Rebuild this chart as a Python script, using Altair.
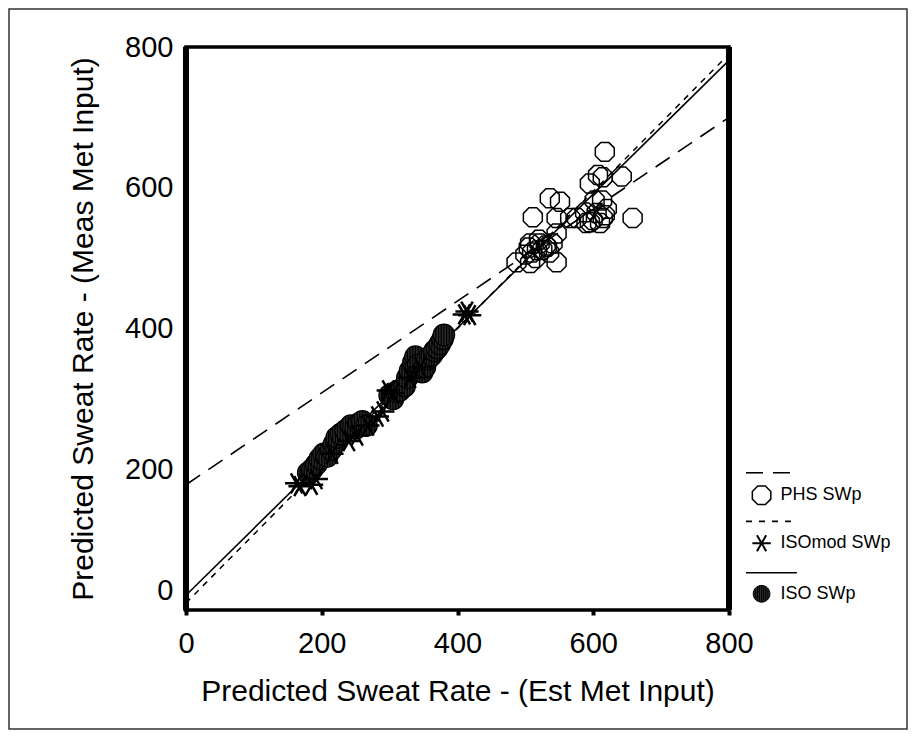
import altair as alt
import pandas as pd

# ---------------- data ----------------
x_ticks = [0, 200, 400, 600, 800]
y_ticks = [0, 200, 400, 600, 800]

phs_x = [617, 607, 642, 614, 595, 602, 613, 536, 551, 511, 658, 546, 576, 599, 614, 590,
         546, 507, 521, 540, 517, 546, 487, 507, 532, 500, 510, 525, 515, 530, 520, 535,
         505, 588, 605, 617, 595, 610, 620, 566]
phs_y = [651, 618, 616, 615, 606, 582, 582, 585, 580, 558, 557, 557, 557, 554, 557, 550,
         535, 521, 521, 521, 511, 494, 494, 493, 516, 505, 508, 512, 500, 518, 526, 508,
         515, 565, 564, 561, 551, 550, 570, 557]

isomod_x = [163, 168, 185, 192, 215, 240, 252, 268, 282, 290, 298, 305, 330, 345, 410, 414, 418]
isomod_y = [180, 176, 178, 186, 222, 240, 248, 262, 275, 282, 312, 308, 330, 345, 420, 424, 419]

iso_x = [180, 186, 192, 197, 203, 208, 214, 218, 222, 228, 235, 243, 250, 255, 260, 266,
         300, 305, 310, 315, 322, 326, 330, 335, 338, 342, 348, 352, 356, 362, 366, 370,
         374, 378, 380]
iso_y = [195, 200, 207, 215, 222, 218, 228, 236, 245, 250, 255, 262, 258, 265, 268, 262,
         305, 300, 310, 312, 318, 330, 340, 352, 360, 348, 338, 345, 356, 362, 368, 372,
         378, 385, 391]

# regression lines (end points)
phs_line_x = [0, 800]
phs_line_y = [178, 700]
isomod_line_x = [0, 800]
isomod_line_y = [10, 790]
iso_line_x = [0, 800]
iso_line_y = [21, 781]

series_names = ["PHS SWp", "ISOmod SWp", "ISO SWp"]
# legend placement (in data units, outside the plotted domain)
leg_line_x1 = [825, 825, 825]
leg_line_x2 = [900, 900, 900]
leg_line_y = [195, 126, 53]
leg_sym_x = [848, 848, 848]
leg_sym_y = [163, 95, 23]
leg_text_x = [876, 876, 876]

border_x = [0, 800]

# ---------------- styling ----------------
FONT = "Liberation Sans"
W, H = 543, 563

OCTAGON = ("M0.383,-0.924L0.924,-0.383L0.924,0.383L0.383,0.924L-0.383,0.924"
           "L-0.924,0.383L-0.924,-0.383L-0.383,-0.924Z")
ASTER = "M-1,0L1,0M-0.5,-0.866L0.5,0.866M-0.5,0.866L0.5,-0.866"
HATCH = ("M-1,0A1,1 0 1,0 1,0A1,1 0 1,0 -1,0Z"
         "M-0.75,-0.661L-0.75,0.661M-0.5,-0.866L-0.5,0.866M-0.25,-0.968L-0.25,0.968"
         "M0,-1L0,1M0.25,-0.968L0.25,0.968M0.5,-0.866L0.5,0.866M0.75,-0.661L0.75,0.661")

xs = alt.Scale(domain=[0, 800], nice=False, zero=False)
ys = alt.Scale(domain=[0, 800], nice=False, zero=False)

ax_x = alt.Axis(values=x_ticks, title="Predicted Sweat Rate - (Est Met Input)", grid=False,
                domain=False, tickSize=5, tickWidth=4, tickColor="black",
                labelFont=FONT, labelFontSize=29, labelColor="black", labelPadding=14,
                labelFlush=False, labelOverlap=False,
                titleFont=FONT, titleFontSize=30, titleFontWeight="normal",
                titleColor="black", titlePadding=18)
ax_y = alt.Axis(values=y_ticks, title="Predicted Sweat Rate - (Meas Met Input)", grid=False,
                domain=False, tickSize=3, tickWidth=2, tickColor="black",
                labelFont=FONT, labelFontSize=29, labelColor="black", labelPadding=10,
                labelOverlap=False,
                labelOffset=alt.condition("datum.value === 0", alt.value(-20), alt.value(0)),
                titleFont=FONT, titleFontSize=30, titleFontWeight="normal",
                titleColor="black", titlePadding=26)


def X(field="x"):
    return alt.X(field, type="quantitative", scale=xs, axis=ax_x)


def Y(field="y"):
    return alt.Y(field, type="quantitative", scale=ys, axis=ax_y)


def df(xv, yv):
    return pd.DataFrame({"x": xv, "y": yv})


# thick left / right frame sides
borders = alt.Chart(pd.DataFrame({"x": border_x, "y": [0, 0], "y2": [800, 800]})).mark_rule(
    color="black", strokeWidth=6).encode(x=X(), y=Y(), y2="y2")

lines = [
    alt.Chart(df(phs_line_x, phs_line_y)).mark_line(color="black", strokeWidth=1.6,
                                                    strokeDash=[17, 10]).encode(x=X(), y=Y()),
    alt.Chart(df(isomod_line_x, isomod_line_y)).mark_line(color="black", strokeWidth=1.5,
                                                          strokeDash=[6, 6]).encode(x=X(), y=Y()),
    alt.Chart(df(iso_line_x, iso_line_y)).mark_line(color="black", strokeWidth=1.6).encode(x=X(), y=Y()),
]

phs_pts = alt.Chart(df(phs_x, phs_y)).mark_point(
    shape=OCTAGON, size=420, filled=False, fill="white", fillOpacity=0, stroke="black",
    strokeWidth=1.5, opacity=1).encode(x=X(), y=Y())
iso_pts = alt.Chart(df(iso_x, iso_y)).mark_point(
    shape=HATCH, size=460, filled=True, fill="#2a2a2a", stroke="black", strokeWidth=1.2,
    opacity=1).encode(x=X(), y=Y())
isomod_pts = alt.Chart(df(isomod_x, isomod_y)).mark_point(
    shape=ASTER, size=540, filled=False, stroke="black", strokeWidth=2.5,
    opacity=1).encode(x=X(), y=Y())

# legend built from its own small table
leg_lines_df = pd.DataFrame({"x": leg_line_x1, "x2": leg_line_x2, "y": leg_line_y,
                             "s": series_names})
leg_dash = [[17, 10], [6, 7], [1, 0]]
leg_lines = [
    alt.Chart(leg_lines_df.iloc[[i]]).mark_rule(color="black", strokeWidth=1.6,
                                                strokeDash=leg_dash[i]).encode(x=X(), x2="x2", y=Y())
    for i in range(3)
]
leg_shapes = [(OCTAGON, 400, False, 1.5), (ASTER, 340, False, 2.0), (HATCH, 280, True, 1.0)]
leg_syms = []
for i, (shp, sz, fl, sw) in enumerate(leg_shapes):
    kw = dict(shape=shp, size=sz, filled=fl, stroke="black", strokeWidth=sw, opacity=1)
    if fl:
        kw["fill"] = "#2a2a2a"
    else:
        kw["fill"] = "white"
        kw["fillOpacity"] = 0
    leg_syms.append(alt.Chart(df([leg_sym_x[i]], [leg_sym_y[i]])).mark_point(**kw)
                    .encode(x=X(), y=Y()))
leg_text = alt.Chart(pd.DataFrame({"x": leg_text_x, "y": leg_sym_y, "t": series_names})).mark_text(
    align="left", baseline="middle", font=FONT, fontSize=18, color="black").encode(
    x=X(), y=Y(), text="t")

# outer frame of the whole figure
frame = alt.Chart(pd.DataFrame({"a": [0]})).mark_rect(
    fill="transparent", stroke="#333333", strokeWidth=1.5).encode(
    x=alt.value(-177), x2=alt.value(721), y=alt.value(-38), y2=alt.value(682))

chart = alt.layer(
    frame, *lines, iso_pts, isomod_pts, phs_pts, borders, *leg_lines, *leg_syms, leg_text
).properties(
    width=W, height=H,
    padding={"left": 178, "top": 39, "right": 179, "bottom": 120},
    autosize=alt.AutoSizeParams(type="none"),
    background="white",
).configure_view(stroke="black", strokeWidth=3.5)

chart.save("out.html", embed_options={"renderer": "svg", "actions": False})
